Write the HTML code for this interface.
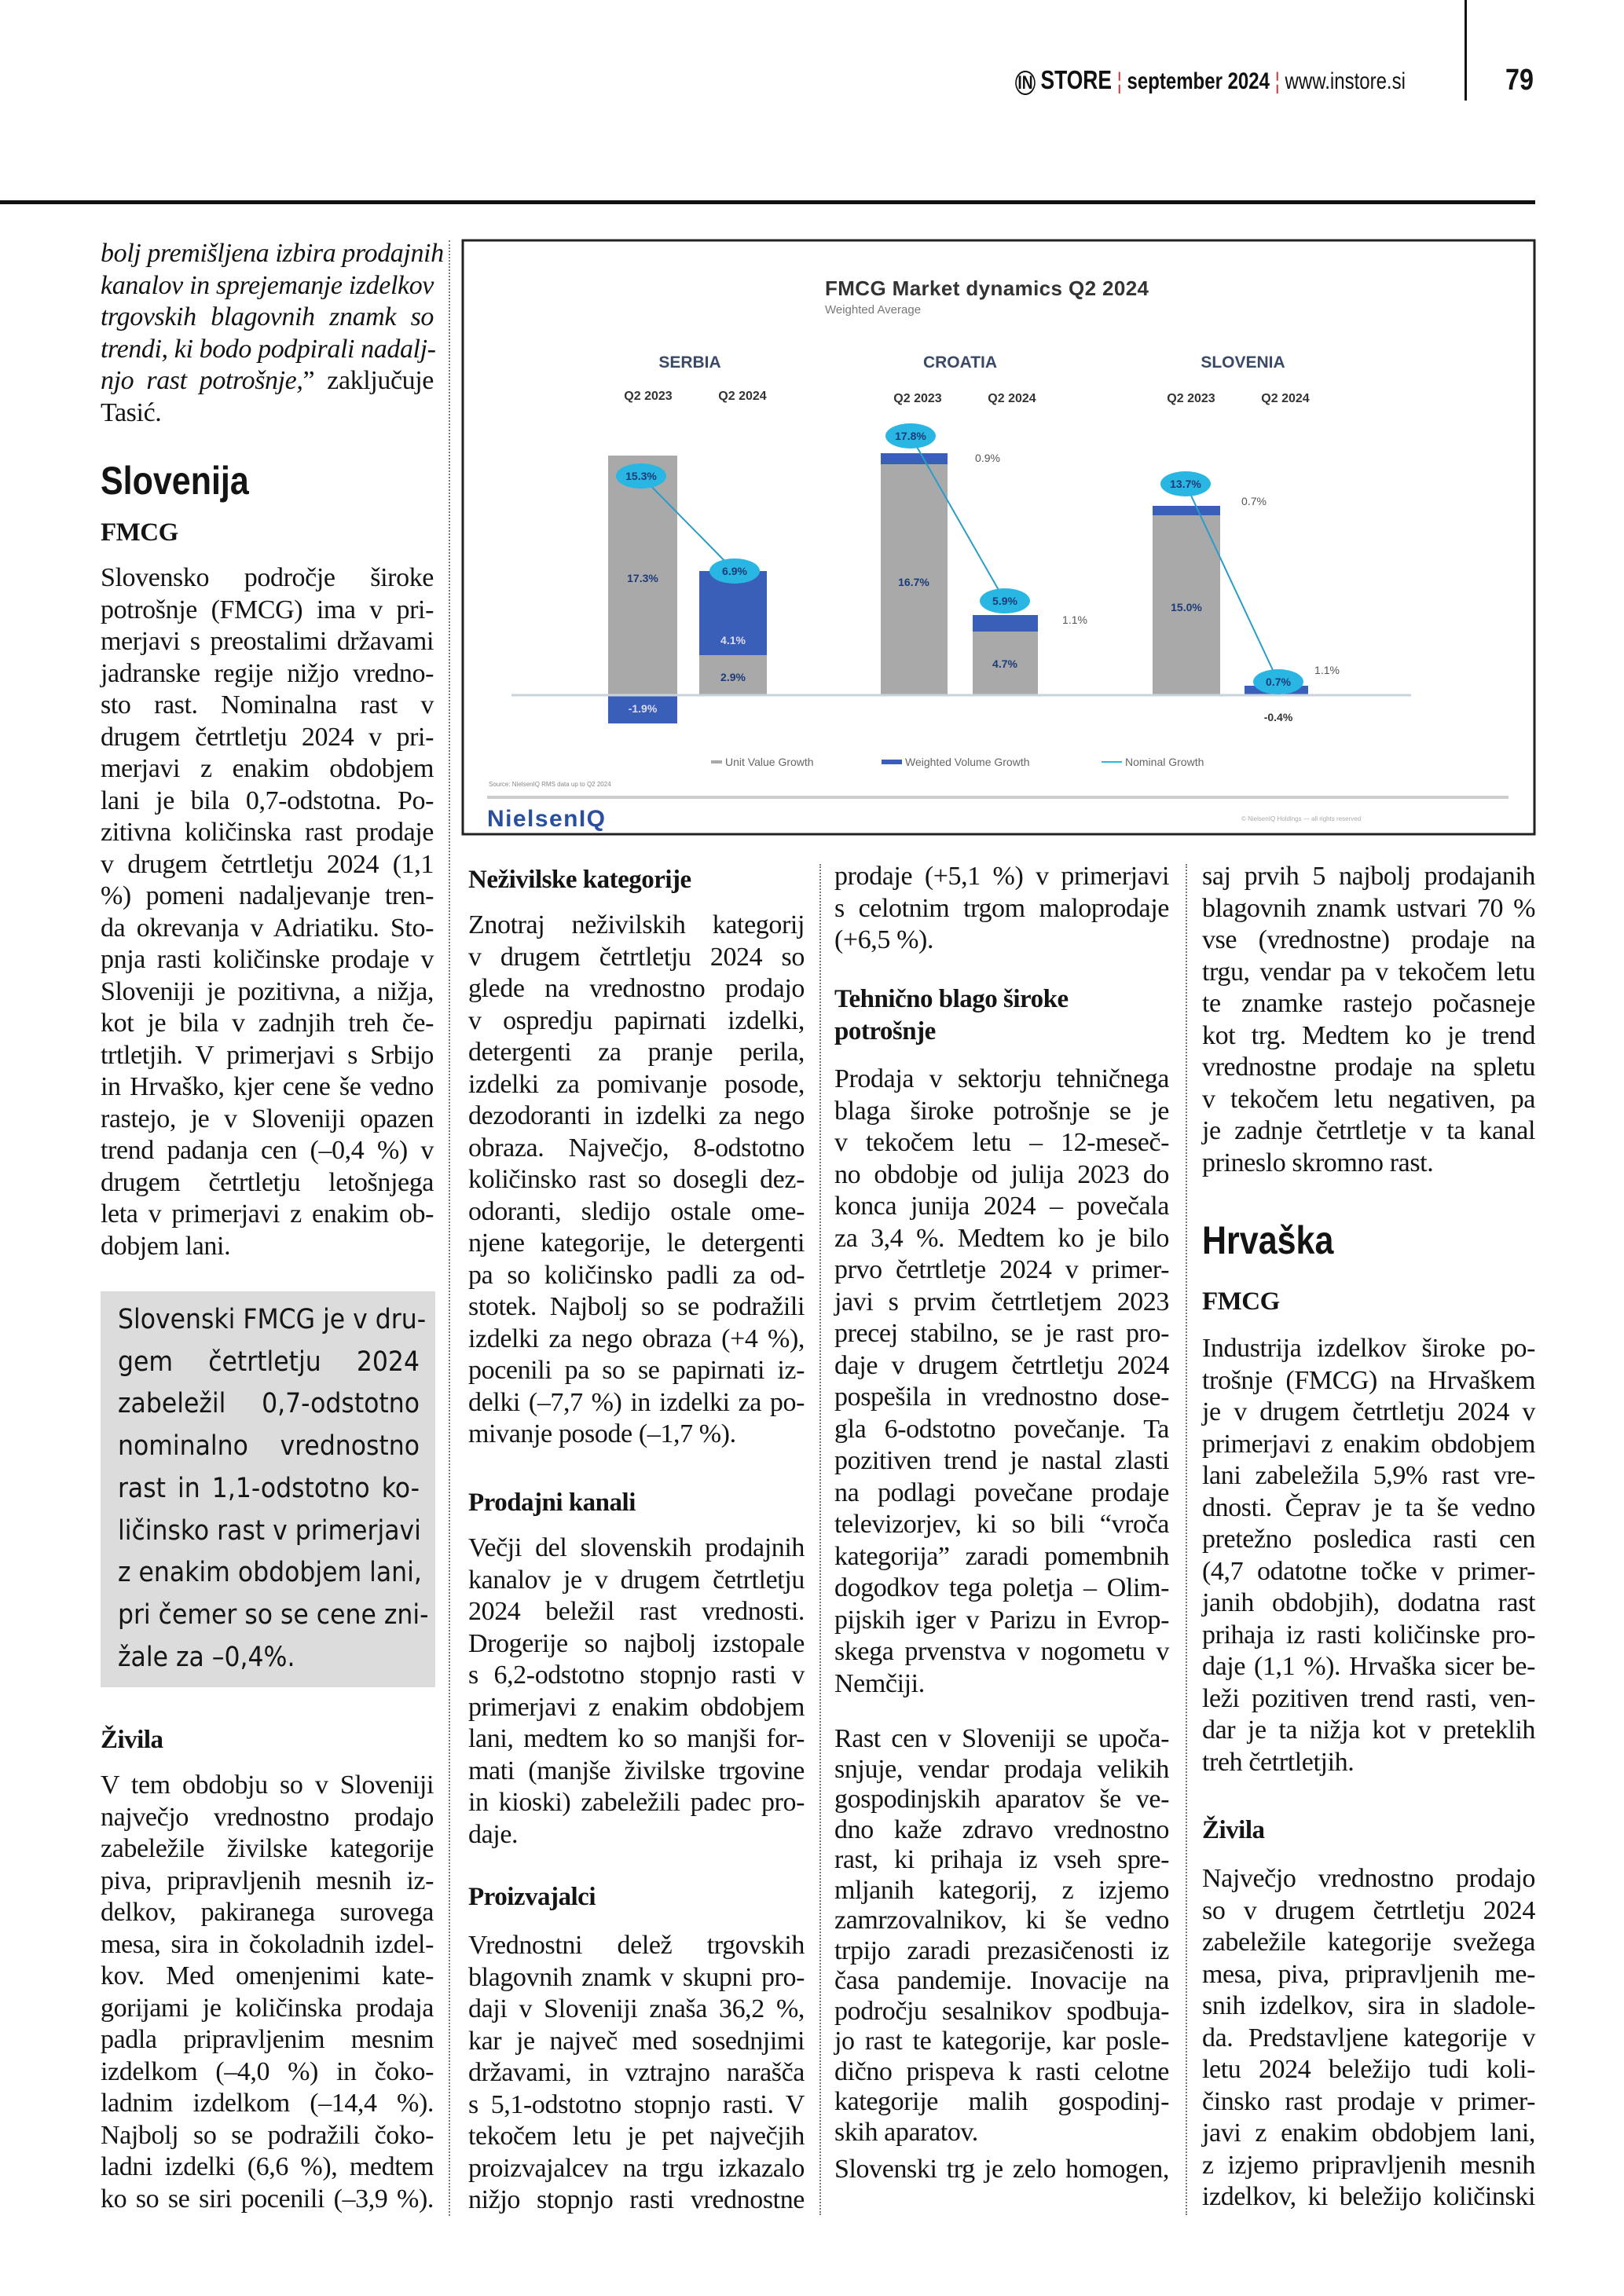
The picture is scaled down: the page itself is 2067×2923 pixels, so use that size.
<!DOCTYPE html>
<html><head><meta charset="utf-8">
<style>
*{margin:0;padding:0;box-sizing:border-box}
body{width:2067px;height:2923px;background:#fff;position:relative;overflow:hidden;font-family:"Liberation Serif",serif;color:#141414}
.b{position:absolute;font-size:34px;line-height:40.5px;letter-spacing:-0.4px}
.b div{white-space:nowrap;height:40.5px}
.b .l{text-align:justify;text-align-last:justify}
.c1{left:128px;width:424px}
.c2{left:596px;width:428px}
.c3{left:1062px;width:426px}
.c4{left:1530px;width:424px}
.h{position:absolute;font-family:"Liberation Sans Narrow","Liberation Sans",sans-serif;font-weight:bold;font-size:50px;line-height:56px;transform:scaleX(0.86);transform-origin:left}
.s{position:absolute;font-weight:bold;font-size:33px;line-height:40.8px;letter-spacing:-0.5px}
.sep{position:absolute;width:0;border-left:2px dotted #777}
.gb{position:absolute;left:128px;top:1644px;width:426px;height:504px;background:#dcdcdc}
.gb .in{position:absolute;left:22px;top:10px;width:384px;font-family:"Liberation Sans Narrow","DejaVu Sans Condensed",sans-serif;font-size:35px;line-height:53.7px}
.gb .in div{white-space:nowrap}
.gb .l{text-align:justify;text-align-last:justify}
</style></head><body>

<div style="position:absolute;left:1864px;top:0;width:3px;height:128px;background:#111"></div>
<div style="position:absolute;left:0;top:255px;width:1954px;height:5px;background:#111"></div>
<div style="position:absolute;right:278px;top:82px;font-family:'Liberation Sans Narrow','Liberation Sans',sans-serif;font-size:30px;line-height:40px;white-space:nowrap;color:#111;transform:scaleX(0.8);transform-origin:right">
<span style="font-weight:bold;font-size:24px;border:2px solid #111;border-radius:50%;padding:0 2px">IN</span> <b style="font-size:33px">STORE</b> <span style="color:#c33">¦</span> <b>september 2024</b> <span style="color:#c33">¦</span> www.instore.si</div>
<div style="position:absolute;left:1916px;top:80px;font-family:'Liberation Sans Narrow','Liberation Sans',sans-serif;font-weight:bold;font-size:38px;line-height:44px;transform:scaleX(0.85);transform-origin:left">79</div>

<div class="sep" style="left:571px;top:306px;height:2515px"></div>
<div class="sep" style="left:1043px;top:1100px;height:1720px"></div>
<div class="sep" style="left:1509px;top:1100px;height:1720px"></div>

<svg style="position:absolute;left:0;top:0" width="2067" height="1100" viewBox="0 0 2067 1100">
<rect x="589" y="306" width="1364" height="756" fill="#fff" stroke="#222" stroke-width="3"/>
<g font-family="Liberation Sans Narrow, Liberation Sans, sans-serif">
<text x="1050" y="376" font-size="26" font-weight="bold" fill="#333" textLength="412">FMCG Market dynamics Q2 2024</text>
<text x="1050" y="399" font-size="15" fill="#777">Weighted Average</text>
<g font-size="21" font-weight="bold" fill="#3a4a66" text-anchor="middle">
<text x="878" y="468">SERBIA</text><text x="1222" y="468">CROATIA</text><text x="1582" y="468">SLOVENIA</text></g>
<g font-size="16" font-weight="bold" fill="#333" text-anchor="middle">
<text x="825" y="509">Q2 2023</text><text x="945" y="509">Q2 2024</text>
<text x="1168" y="512">Q2 2023</text><text x="1288" y="512">Q2 2024</text>
<text x="1516" y="512">Q2 2023</text><text x="1636" y="512">Q2 2024</text></g>
<rect x="774" y="580" width="88" height="305" fill="#a9a9a9"/>
<rect x="774" y="885" width="88" height="36" fill="#3a5fb8"/>
<rect x="890" y="727" width="86" height="107" fill="#3a5fb8"/>
<rect x="890" y="834" width="86" height="51" fill="#a9a9a9"/>
<rect x="1121" y="577" width="85" height="14" fill="#3a5fb8"/>
<rect x="1121" y="591" width="85" height="294" fill="#a9a9a9"/>
<rect x="1238" y="783" width="83" height="21" fill="#3a5fb8"/>
<rect x="1238" y="804" width="83" height="81" fill="#a9a9a9"/>
<rect x="1467" y="644" width="86" height="12" fill="#3a5fb8"/>
<rect x="1467" y="656" width="86" height="229" fill="#a9a9a9"/>
<rect x="1584" y="873" width="81" height="12" fill="#3a5fb8"/>
<line x1="651" y1="885" x2="1796" y2="885" stroke="#c9d3dc" stroke-width="3"/>
<polyline points="816,606 935,727" stroke="#2a9cc8" stroke-width="2" fill="none"/>
<polyline points="1159,555 1279,765" stroke="#2a9cc8" stroke-width="2" fill="none"/>
<polyline points="1509,616 1627,868" stroke="#2a9cc8" stroke-width="2" fill="none"/>
<g fill="#29b6e3">
<ellipse cx="816" cy="606" rx="32" ry="16"/><ellipse cx="935" cy="727" rx="32" ry="16"/>
<ellipse cx="1159" cy="555" rx="32" ry="16"/><ellipse cx="1279" cy="765" rx="32" ry="16"/>
<ellipse cx="1509" cy="616" rx="32" ry="16"/><ellipse cx="1627" cy="868" rx="32" ry="16"/></g>
<g font-size="14" font-weight="bold" fill="#1d3b78" text-anchor="middle">
<text x="816" y="611">15.3%</text><text x="935" y="732">6.9%</text>
<text x="1159" y="560">17.8%</text><text x="1279" y="770">5.9%</text>
<text x="1509" y="621">13.7%</text><text x="1627" y="873">0.7%</text>
<text x="818" y="741">17.3%</text><text x="933" y="820" fill="#dde">4.1%</text><text x="933" y="867">2.9%</text>
<text x="818" y="907" fill="#dde">-1.9%</text>
<text x="1163" y="746">16.7%</text><text x="1279" y="850">4.7%</text>
<text x="1510" y="778">15.0%</text>
<text x="1627" y="918" fill="#333">-0.4%</text>
</g>
<g font-size="14" fill="#555" text-anchor="middle">
<text x="1257" y="588">0.9%</text><text x="1368" y="794">1.1%</text>
<text x="1596" y="643">0.7%</text><text x="1689" y="858">1.1%</text></g>
<g font-size="14" fill="#666">
<rect x="905" y="968" width="14" height="4" fill="#a9a9a9"/><text x="923" y="975">Unit Value Growth</text>
<rect x="1122" y="967" width="26" height="6" fill="#3a5fb8"/><text x="1152" y="975">Weighted Volume Growth</text>
<line x1="1402" y1="970" x2="1428" y2="970" stroke="#29b6e3" stroke-width="2"/><text x="1432" y="975">Nominal Growth</text></g>
<text x="622" y="1001" font-size="8" fill="#888">Source: NielsenIQ RMS data up to Q2 2024</text>
<rect x="620" y="1013" width="1300" height="4" fill="#ccc"/>
<text x="620" y="1052" font-size="30" font-weight="bold" fill="#2a4fa0" textLength="150">NielsenIQ</text>
<text x="1580" y="1045" font-size="8" fill="#aaa">© NielsenIQ Holdings — all rights reserved</text>
</g>
</svg>

<div class="b c1" style="top:303px;font-style:italic">
<div class="l">bolj premišljena izbira prodajnih</div>
<div class="l">kanalov in sprejemanje izdelkov</div>
<div class="l">trgovskih blagovnih znamk so</div>
<div class="l">trendi, ki bodo podpirali nadalj-</div>
<div class="l">njo rast potrošnje,<span style="font-style:normal">” zaključuje</span></div>
<div style="font-style:normal">Tasić.</div>
</div>
<div class="h" style="left:128px;top:584px">Slovenija</div>
<div class="s" style="left:128px;top:658px">FMCG</div>
<div class="b c1" style="top:716px">
<div class="l">Slovensko področje široke</div>
<div class="l">potrošnje (FMCG) ima v pri-</div>
<div class="l">merjavi s preostalimi državami</div>
<div class="l">jadranske regije nižjo vredno-</div>
<div class="l">sto rast. Nominalna rast v</div>
<div class="l">drugem četrtletju 2024 v pri-</div>
<div class="l">merjavi z enakim obdobjem</div>
<div class="l">lani je bila 0,7-odstotna. Po-</div>
<div class="l">zitivna količinska rast prodaje</div>
<div class="l">v drugem četrtletju 2024 (1,1</div>
<div class="l">%) pomeni nadaljevanje tren-</div>
<div class="l">da okrevanja v Adriatiku. Sto-</div>
<div class="l">pnja rasti količinske prodaje v</div>
<div class="l">Sloveniji je pozitivna, a nižja,</div>
<div class="l">kot je bila v zadnjih treh če-</div>
<div class="l">trtletjih. V primerjavi s Srbijo</div>
<div class="l">in Hrvaško, kjer cene še vedno</div>
<div class="l">rastejo, je v Sloveniji opazen</div>
<div class="l">trend padanja cen (–0,4 %) v</div>
<div class="l">drugem četrtletju letošnjega</div>
<div class="l">leta v primerjavi z enakim ob-</div>
<div>dobjem lani.</div>
</div>
<div class="gb"><div class="in">
<div class="l">Slovenski FMCG je v dru-</div>
<div class="l">gem četrtletju 2024</div>
<div class="l">zabeležil 0,7-odstotno</div>
<div class="l">nominalno vrednostno</div>
<div class="l">rast in 1,1-odstotno ko-</div>
<div class="l">ličinsko rast v primerjavi</div>
<div class="l">z enakim obdobjem lani,</div>
<div class="l">pri čemer so se cene zni-</div>
<div>žale za –0,4%.</div>
</div></div>
<div class="s" style="left:128px;top:2195px">Živila</div>
<div class="b c1" style="top:2253px">
<div class="l">V tem obdobju so v Sloveniji</div>
<div class="l">največjo vrednostno prodajo</div>
<div class="l">zabeležile živilske kategorije</div>
<div class="l">piva, pripravljenih mesnih iz-</div>
<div class="l">delkov, pakiranega surovega</div>
<div class="l">mesa, sira in čokoladnih izdel-</div>
<div class="l">kov. Med omenjenimi kate-</div>
<div class="l">gorijami je količinska prodaja</div>
<div class="l">padla pripravljenim mesnim</div>
<div class="l">izdelkom (–4,0 %) in čoko-</div>
<div class="l">ladnim izdelkom (–14,4 %).</div>
<div class="l">Najbolj so se podražili čoko-</div>
<div class="l">ladni izdelki (6,6 %), medtem</div>
<div class="l">ko so se siri pocenili (–3,9 %).</div>
</div>

<div class="s" style="left:596px;top:1100px">Neživilske kategorije</div>
<div class="b c2" style="top:1158px">
<div class="l">Znotraj neživilskih kategorij</div>
<div class="l">v drugem četrtletju 2024 so</div>
<div class="l">glede na vrednostno prodajo</div>
<div class="l">v ospredju papirnati izdelki,</div>
<div class="l">detergenti za pranje perila,</div>
<div class="l">izdelki za pomivanje posode,</div>
<div class="l">dezodoranti in izdelki za nego</div>
<div class="l">obraza. Največjo, 8-odstotno</div>
<div class="l">količinsko rast so dosegli dez-</div>
<div class="l">odoranti, sledijo ostale ome-</div>
<div class="l">njene kategorije, le detergenti</div>
<div class="l">pa so količinsko padli za od-</div>
<div class="l">stotek. Najbolj so se podražili</div>
<div class="l">izdelki za nego obraza (+4 %),</div>
<div class="l">pocenili pa so se papirnati iz-</div>
<div class="l">delki (–7,7 %) in izdelki za po-</div>
<div>mivanje posode (–1,7 %).</div>
</div>
<div class="s" style="left:596px;top:1893px">Prodajni kanali</div>
<div class="b c2" style="top:1951px">
<div class="l">Večji del slovenskih prodajnih</div>
<div class="l">kanalov je v drugem četrtletju</div>
<div class="l">2024 beležil rast vrednosti.</div>
<div class="l">Drogerije so najbolj izstopale</div>
<div class="l">s 6,2-odstotno stopnjo rasti v</div>
<div class="l">primerjavi z enakim obdobjem</div>
<div class="l">lani, medtem ko so manjši for-</div>
<div class="l">mati (manjše živilske trgovine</div>
<div class="l">in kioski) zabeležili padec pro-</div>
<div>daje.</div>
</div>
<div class="s" style="left:596px;top:2395px">Proizvajalci</div>
<div class="b c2" style="top:2457px">
<div class="l">Vrednostni delež trgovskih</div>
<div class="l">blagovnih znamk v skupni pro-</div>
<div class="l">daji v Sloveniji znaša 36,2 %,</div>
<div class="l">kar je največ med sosednjimi</div>
<div class="l">državami, in vztrajno narašča</div>
<div class="l">s 5,1-odstotno stopnjo rasti. V</div>
<div class="l">tekočem letu je pet največjih</div>
<div class="l">proizvajalcev na trgu izkazalo</div>
<div class="l">nižjo stopnjo rasti vrednostne</div>
</div>

<div class="b c3" style="top:1096px">
<div class="l">prodaje (+5,1 %) v primerjavi</div>
<div class="l">s celotnim trgom maloprodaje</div>
<div>(+6,5 %).</div>
</div>
<div class="s" style="left:1062px;top:1252px">Tehnično blago široke<br>potrošnje</div>
<div class="b c3" style="top:1354px">
<div class="l">Prodaja v sektorju tehničnega</div>
<div class="l">blaga široke potrošnje se je</div>
<div class="l">v tekočem letu – 12-meseč-</div>
<div class="l">no obdobje od julija 2023 do</div>
<div class="l">konca junija 2024 – povečala</div>
<div class="l">za 3,4 %. Medtem ko je bilo</div>
<div class="l">prvo četrtletje 2024 v primer-</div>
<div class="l">javi s prvim četrtletjem 2023</div>
<div class="l">precej stabilno, se je rast pro-</div>
<div class="l">daje v drugem četrtletju 2024</div>
<div class="l">pospešila in vrednostno dose-</div>
<div class="l">gla 6-odstotno povečanje. Ta</div>
<div class="l">pozitiven trend je nastal zlasti</div>
<div class="l">na podlagi povečane prodaje</div>
<div class="l">televizorjev, ki so bili “vroča</div>
<div class="l">kategorija” zaradi pomembnih</div>
<div class="l">dogodkov tega poletja – Olim-</div>
<div class="l">pijskih iger v Parizu in Evrop-</div>
<div class="l">skega prvenstva v nogometu v</div>
<div>Nemčiji.</div>
</div>
<div class="b c3" style="top:2195px;line-height:38.5px">
<div class="l" style="height:38.5px">Rast cen v Sloveniji se upoča-</div>
<div class="l" style="height:38.5px">snjuje, vendar prodaja velikih</div>
<div class="l" style="height:38.5px">gospodinjskih aparatov še ve-</div>
<div class="l" style="height:38.5px">dno kaže zdravo vrednostno</div>
<div class="l" style="height:38.5px">rast, ki prihaja iz vseh spre-</div>
<div class="l" style="height:38.5px">mljanih kategorij, z izjemo</div>
<div class="l" style="height:38.5px">zamrzovalnikov, ki še vedno</div>
<div class="l" style="height:38.5px">trpijo zaradi prezasičenosti iz</div>
<div class="l" style="height:38.5px">časa pandemije. Inovacije na</div>
<div class="l" style="height:38.5px">področju sesalnikov spodbuja-</div>
<div class="l" style="height:38.5px">jo rast te kategorije, kar posle-</div>
<div class="l" style="height:38.5px">dično prispeva k rasti celotne</div>
<div class="l" style="height:38.5px">kategorije malih gospodinj-</div>
<div style="height:38.5px">skih aparatov.</div>
</div>
<div class="b c3" style="top:2742px">
<div class="l">Slovenski trg je zelo homogen,</div>
</div>

<div class="b c4" style="top:1096px">
<div class="l">saj prvih 5 najbolj prodajanih</div>
<div class="l">blagovnih znamk ustvari 70 %</div>
<div class="l">vse (vrednostne) prodaje na</div>
<div class="l">trgu, vendar pa v tekočem letu</div>
<div class="l">te znamke rastejo počasneje</div>
<div class="l">kot trg. Medtem ko je trend</div>
<div class="l">vrednostne prodaje na spletu</div>
<div class="l">v tekočem letu negativen, pa</div>
<div class="l">je zadnje četrtletje v ta kanal</div>
<div>prineslo skromno rast.</div>
</div>
<div class="h" style="left:1530px;top:1551px">Hrvaška</div>
<div class="s" style="left:1530px;top:1637px">FMCG</div>
<div class="b c4" style="top:1697px">
<div class="l">Industrija izdelkov široke po-</div>
<div class="l">trošnje (FMCG) na Hrvaškem</div>
<div class="l">je v drugem četrtletju 2024 v</div>
<div class="l">primerjavi z enakim obdobjem</div>
<div class="l">lani zabeležila 5,9% rast vre-</div>
<div class="l">dnosti. Čeprav je ta še vedno</div>
<div class="l">pretežno posledica rasti cen</div>
<div class="l">(4,7 odatotne točke v primer-</div>
<div class="l">janih obdobjih), dodatna rast</div>
<div class="l">prihaja iz rasti količinske pro-</div>
<div class="l">daje (1,1 %). Hrvaška sicer be-</div>
<div class="l">leži pozitiven trend rasti, ven-</div>
<div class="l">dar je ta nižja kot v preteklih</div>
<div>treh četrtletjih.</div>
</div>
<div class="s" style="left:1530px;top:2310px">Živila</div>
<div class="b c4" style="top:2372px">
<div class="l">Največjo vrednostno prodajo</div>
<div class="l">so v drugem četrtletju 2024</div>
<div class="l">zabeležile kategorije svežega</div>
<div class="l">mesa, piva, pripravljenih me-</div>
<div class="l">snih izdelkov, sira in sladole-</div>
<div class="l">da. Predstavljene kategorije v</div>
<div class="l">letu 2024 beležijo tudi koli-</div>
<div class="l">činsko rast prodaje v primer-</div>
<div class="l">javi z enakim obdobjem lani,</div>
<div class="l">z izjemo pripravljenih mesnih</div>
<div class="l">izdelkov, ki beležijo količinski</div>
</div>
</body></html>
